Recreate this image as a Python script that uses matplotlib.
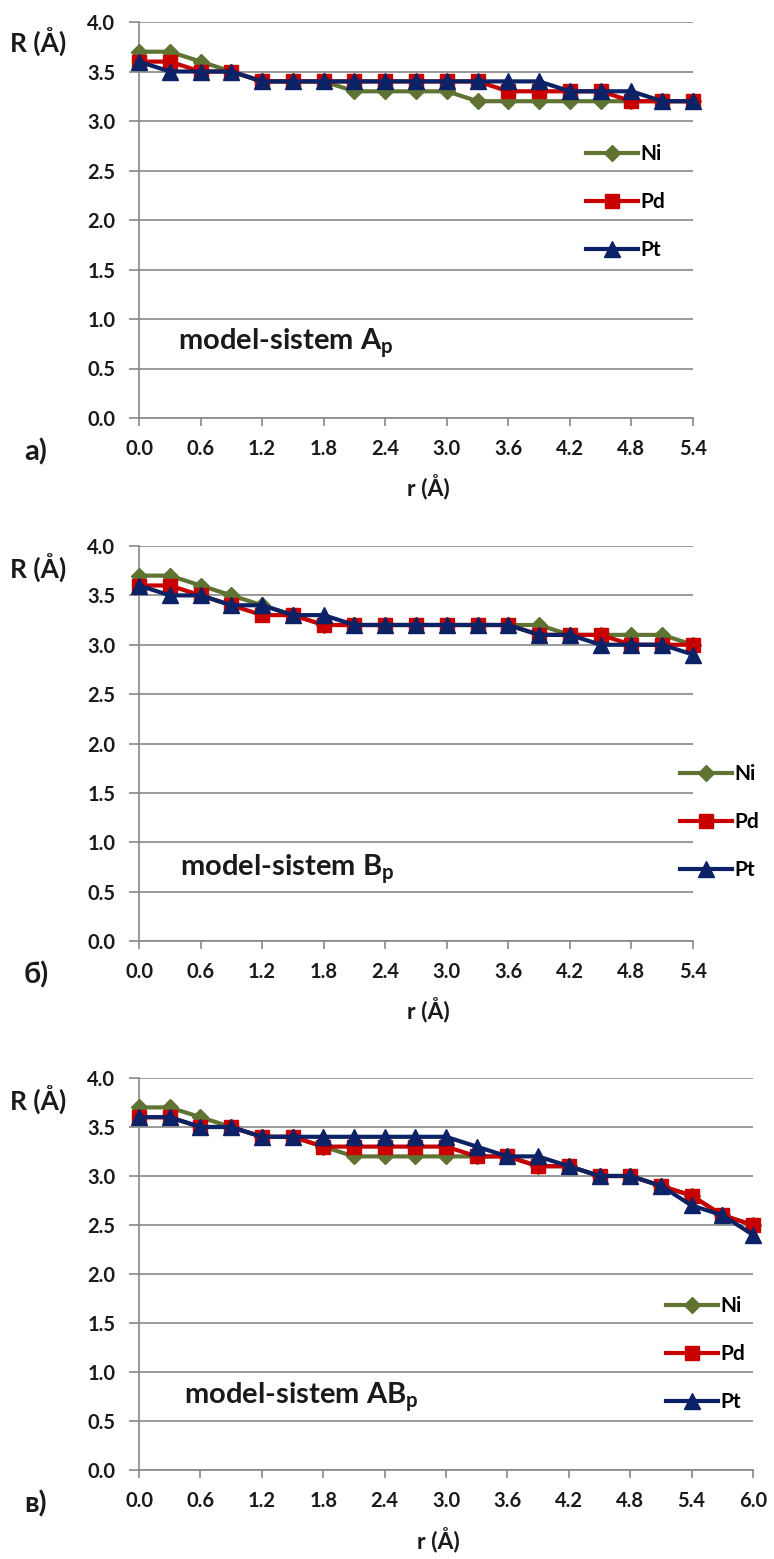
import matplotlib
matplotlib.use("Agg")
import matplotlib.pyplot as plt

plt.rcParams['font.family'] = ['Lato', 'DejaVu Sans']
plt.rcParams['mathtext.fontset'] = 'custom'
plt.rcParams['mathtext.rm'] = 'Lato:bold'

W, H = 774, 1559

# x values (r, Å)
r_ab = [0.0, 0.3, 0.6, 0.9, 1.2, 1.5, 1.8, 2.1, 2.4, 2.7, 3.0, 3.3, 3.6, 3.9, 4.2, 4.5, 4.8, 5.1, 5.4]
r_c = [0.0, 0.3, 0.6, 0.9, 1.2, 1.5, 1.8, 2.1, 2.4, 2.7, 3.0, 3.3, 3.6, 3.9, 4.2, 4.5, 4.8, 5.1, 5.4, 5.7, 6.0]

# a) model-sistem A_p
ni_a = [3.7, 3.7, 3.6, 3.5, 3.4, 3.4, 3.4, 3.3, 3.3, 3.3, 3.3, 3.2, 3.2, 3.2, 3.2, 3.2, 3.2, 3.2, 3.2]
pd_a = [3.6, 3.6, 3.5, 3.5, 3.4, 3.4, 3.4, 3.4, 3.4, 3.4, 3.4, 3.4, 3.3, 3.3, 3.3, 3.3, 3.2, 3.2, 3.2]
pt_a = [3.6, 3.5, 3.5, 3.5, 3.4, 3.4, 3.4, 3.4, 3.4, 3.4, 3.4, 3.4, 3.4, 3.4, 3.3, 3.3, 3.3, 3.2, 3.2]

# б) model-sistem B_p
ni_b = [3.7, 3.7, 3.6, 3.5, 3.4, 3.3, 3.2, 3.2, 3.2, 3.2, 3.2, 3.2, 3.2, 3.2, 3.1, 3.1, 3.1, 3.1, 3.0]
pd_b = [3.6, 3.6, 3.5, 3.4, 3.3, 3.3, 3.2, 3.2, 3.2, 3.2, 3.2, 3.2, 3.2, 3.1, 3.1, 3.1, 3.0, 3.0, 3.0]
pt_b = [3.6, 3.5, 3.5, 3.4, 3.4, 3.3, 3.3, 3.2, 3.2, 3.2, 3.2, 3.2, 3.2, 3.1, 3.1, 3.0, 3.0, 3.0, 2.9]

# в) model-sistem AB_p
ni_c = [3.7, 3.7, 3.6, 3.5, 3.4, 3.4, 3.3, 3.2, 3.2, 3.2, 3.2, 3.2, 3.2, 3.1, 3.1, 3.0, 3.0, 2.9, 2.8, 2.6, 2.5]
pd_c = [3.6, 3.6, 3.5, 3.5, 3.4, 3.4, 3.3, 3.3, 3.3, 3.3, 3.3, 3.2, 3.2, 3.1, 3.1, 3.0, 3.0, 2.9, 2.8, 2.6, 2.5]
pt_c = [3.6, 3.6, 3.5, 3.5, 3.4, 3.4, 3.4, 3.4, 3.4, 3.4, 3.4, 3.3, 3.2, 3.2, 3.1, 3.0, 3.0, 2.9, 2.7, 2.6, 2.4]

xticks_ab = [0.0, 0.6, 1.2, 1.8, 2.4, 3.0, 3.6, 4.2, 4.8, 5.4]
xticks_c = [0.0, 0.6, 1.2, 1.8, 2.4, 3.0, 3.6, 4.2, 4.8, 5.4, 6.0]
yticks = [0.0, 0.5, 1.0, 1.5, 2.0, 2.5, 3.0, 3.5, 4.0]

COLORS = {"Ni": "#5f7432", "Pd": "#c80000", "Pt": "#0c2266"}
MARKERS = {"Ni": ("D", 8), "Pd": ("s", 10), "Pt": ("^", 11)}
GRID = "#888888"
INK = "#1a1a1a"

fig = plt.figure(figsize=(W / 100, H / 100), dpi=100)


def px_axes(left, top, right, bottom):
    return fig.add_axes([left / W, 1 - bottom / H, (right - left) / W, (bottom - top) / H])


def panel(box, r, series, xticks, letter, system, sys_pos, leg_xy, y_lab, y_rlab, x_rlab):
    left, top, right, bottom = box
    ax = px_axes(*box)
    for name, vals in series:
        m, ms = MARKERS[name]
        ax.plot(r, vals, color=COLORS[name], lw=3, marker=m, ms=ms, label=name,
                clip_on=False, zorder=3)
    ax.set_xlim(r[0], r[-1])
    ax.set_ylim(0, 4.0)
    ax.set_yticks(yticks)
    ax.set_yticklabels([f"{v:.1f}" for v in yticks])
    ax.set_xticks(xticks)
    ax.set_xticklabels([f"{v:.1f}" for v in xticks])
    ax.yaxis.grid(True, color=GRID, lw=1.2, zorder=0)
    ax.set_axisbelow(True)
    for s in ("top", "right"):
        ax.spines[s].set_visible(False)
    for s in ("left", "bottom"):
        ax.spines[s].set_color(GRID)
        ax.spines[s].set_linewidth(1.2)
    ax.tick_params(axis="y", direction="out", length=7, width=1.2, color=GRID, pad=10,
                   labelsize=14.5)
    ax.tick_params(axis="x", direction="out", length=6, width=1.2, color=GRID, pad=9,
                   labelsize=14.5)
    for lab in ax.get_xticklabels() + ax.get_yticklabels():
        lab.set_fontweight("bold")
        lab.set_color(INK)

    # caption inside the plot, x given in pixels, baseline in data units
    sx = (sys_pos[0] - left) / (right - left) * r[-1]
    ax.text(sx, sys_pos[1], system, fontsize=21, fontweight="bold", color=INK, va="baseline")

    fig.text(10 / W, 1 - y_lab / H, "R (Å)", fontsize=19, fontweight="bold", va="center",
             color=INK)
    fig.text(24 / W, 1 - (bottom + 34) / H, letter, fontsize=21, fontweight="bold", va="center",
             color=INK)
    fig.text(x_rlab / W, 1 - y_rlab / H, "r (Å)", fontsize=16.5, fontweight="bold", va="center",
             ha="center", color=INK)

    ax.legend(frameon=False, loc="upper left", bbox_to_anchor=(leg_xy[0] / W, 1 - leg_xy[1] / H),
              bbox_transform=fig.transFigure, borderpad=0, borderaxespad=0,
              handlelength=2.5, handletextpad=0.1, labelspacing=1.35,
              prop={"weight": "bold", "size": 15})
    return ax


panel((139, 22, 693, 418), r_ab, [("Ni", ni_a), ("Pd", pd_a), ("Pt", pt_a)], xticks_ab,
      "a)", "model-sistem A$_\\mathrm{p}$", (178, 0.68), (586, 144), 42, 487, 428)
panel((139, 546, 693, 941), r_ab, [("Ni", ni_b), ("Pd", pd_b), ("Pt", pt_b)], xticks_ab,
      "б)", "model-sistem B$_\\mathrm{p}$", (180, 0.66), (680, 764), 568, 1010, 428)
panel((139, 1078, 753, 1470), r_c, [("Ni", ni_c), ("Pd", pd_c), ("Pt", pt_c)], xticks_c,
      "в)", "model-sistem AB$_\\mathrm{p}$", (184, 0.67), (666, 1296), 1100, 1540, 438)

fig.savefig("out.png", dpi=100)
